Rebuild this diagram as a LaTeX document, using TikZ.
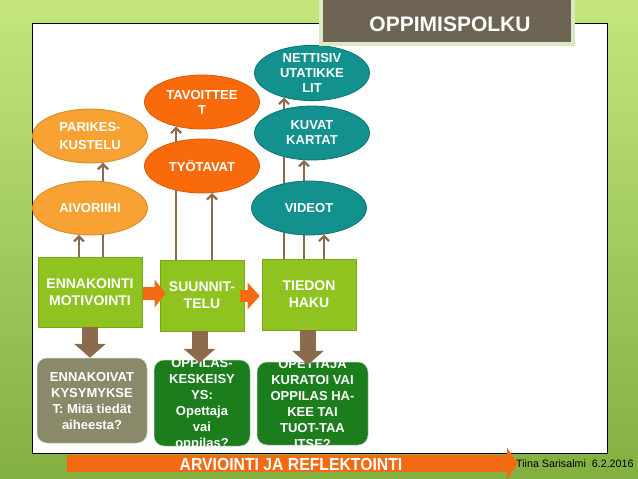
\documentclass[tikz,border=0pt]{standalone}
\usepackage{fontspec}
\setmainfont{Liberation Sans}
\newfontfamily\narrowfont{Liberation Sans}[FakeStretch=0.9]
\usetikzlibrary{shapes.geometric,arrows.meta,calc}
\definecolor{bgtop}{HTML}{C4E67A}
\definecolor{bgbot}{HTML}{82B040}
\definecolor{lorange}{HTML}{F7A232}
\definecolor{dorange}{HTML}{F96A0A}
\definecolor{tealc}{HTML}{12918F}
\definecolor{boxgreen}{HTML}{8EC320}
\definecolor{dgreen}{HTML}{1B7D1B}
\definecolor{olivegray}{HTML}{8A8A6A}
\definecolor{brownarr}{HTML}{8B6B4B}
\definecolor{arrorange}{HTML}{F46A12}
\definecolor{titlebg}{HTML}{6E6453}
\definecolor{titleborder}{HTML}{DCEAC2}
\pgfdeclarelayer{bg}
\pgfdeclarelayer{back}
\pgfsetlayers{bg,back,main}
\tikzset{
  ell/.style={ellipse, minimum width=115pt, minimum height=54pt, inner sep=0pt,
    line width=0.8pt, text=white, align=center,
    font=\bfseries\fontsize{13}{15}\selectfont},
  lor/.style={ell, fill=lorange, draw=lorange!85!black},
  dor/.style={ell, fill=dorange, draw=dorange!85!black},
  tl/.style={ell, fill=tealc, draw=tealc!80!black},
  sqbox/.style={rectangle, fill=boxgreen, draw=boxgreen!85!black, line width=0.6pt,
    text=white, align=center, inner sep=0pt,
    font=\bfseries\fontsize{14}{17}\selectfont},
  rbox/.style={rectangle, rounded corners=10pt, inner sep=0pt, draw=white!60!gray, line width=0.5pt},
  rtext/.style={text=white, align=center, inner sep=0pt,
    font=\bfseries\fontsize{13}{16}\selectfont},
  thinarr/.style={draw=brownarr, line width=2.2pt, -{Straight Barb[length=5pt,width=10pt]}},
  blockdown/.style={draw=brownarr, line width=16pt, -{Triangle[length=14pt,width=31pt]}},
}
\begin{document}
\begin{tikzpicture}[x=1pt,y=-1pt]
\useasboundingbox (0,0) rectangle (638,479);
\begin{pgfonlayer}{bg}
\shade[top color=bgtop, bottom color=bgbot] (0,0) rectangle (638,479);
\draw[fill=white, draw=black, line width=0.8pt] (32,23) rectangle (607,453);
\end{pgfonlayer}

% ellipses
\node[lor] (parik) at (90,136) {PARIKES-\\[3pt]KUSTELU};
\node[lor] (aivo) at (90,208) {AIVORIIHI};
\node[dor] (tavo) at (202,102) {TAVOITTEE\\T};
\node[dor] (tyo) at (202,166) {TYÖTAVAT};
\node[tl] (nett) at (312,73) {NETTISIV\\UTATIKKE\\LIT};
\node[tl] (kuva) at (312,133) {KUVAT\\KARTAT};
\node[tl] (vide) at (309,208) {VIDEOT};

% green boxes
\node[sqbox, minimum width=104pt, minimum height=70pt] (ennak) at (90,292) {ENNAKOINTI\\MOTIVOINTI};
\node[sqbox, minimum width=84pt, minimum height=71pt] (suun) at (202,295.5) {SUUNNIT-\\TELU};
\node[sqbox, minimum width=94pt, minimum height=71pt] (tied) at (309,294.5) {TIEDON\\HAKU};

% thin arrows behind ellipses
\coordinate (e1) at ($(ennak.north)+(-11,0)$);
\coordinate (e2) at ($(ennak.north)+(13,0)$);
\coordinate (s1) at ($(suun.north)+(-26,0)$);
\coordinate (s2) at ($(suun.north)+(10,0)$);
\coordinate (t1) at ($(tied.north)+(-25,0)$);
\coordinate (t2) at ($(tied.north)+(-5,0)$);
\coordinate (t3) at ($(tied.north)+(15,0)$);
\begin{pgfonlayer}{back}
\draw[thinarr] (e1) -- ($(e1 |- aivo.south)+(0,-0.5)$);
\draw[thinarr] (e2) -- ($(e2 |- parik.south)+(0,-0.7)$);
\draw[thinarr] (s1) -- ($(s1 |- tavo.south)+(0,-2.9)$);
\draw[thinarr] (s2) -- ($(s2 |- tyo.south)+(0,-0.4)$);
\draw[thinarr] (t1) -- ($(t1 |- nett.south)+(0,-3.4)$);
\draw[thinarr] (t2) -- ($(t2 |- kuva.south)+(0,-0.5)$);
\draw[thinarr] (t3) -- ($(t3 |- vide.south)+(0,-0.9)$);
\end{pgfonlayer}

% orange block arrows between boxes
\coordinate (o1s) at ($(ennak.east)+(1,1.5)$);
\draw[arrorange, line width=13pt, -{Triangle[length=11pt,width=27pt]}] (o1s) -- ($(o1s -| suun.west)+(6,0)$);
\coordinate (o2s) at ($(suun.east)+(-4,0.5)$);
\draw[arrorange, line width=12pt, -{Triangle[length=12pt,width=26pt]}] (o2s) -- ($(o2s -| tied.west)+(-2,0)$);

% rounded boxes
\node[rbox, fill=olivegray, minimum width=110pt, minimum height=85pt] (enk2) at (92,400.5) {};
\node[rtext] (enk2t) at (92,401) {ENNAKOIVAT\\KYSYMYKSE\\T: Mitä tiedät\\aiheesta?};
\node[rbox, fill=dgreen, minimum width=96pt, minimum height=86pt] (opp) at (202,403) {};
\begin{scope}
\clip[rounded corners=10pt] (opp.south west) rectangle (opp.north east);
\node[rtext] (oppt) at (202,404) {OPPILAS-\\KESKEISY\\YS:\\Opettaja\\vai\\oppilas?};
\end{scope}
\node[rbox, fill=dgreen, minimum width=111pt, minimum height=83pt] (opt) at (312.5,403.5) {};
\begin{scope}
\clip[rounded corners=10pt] (opt.south west) rectangle (opt.north east);
\node[rtext] (optt) at (312.5,404) {OPETTAJA\\KURATOI VAI\\OPPILAS HA-\\KEE TAI\\TUOT-TAA\\ITSE?};
\end{scope}

% brown block arrows down
\draw[blockdown] (ennak.south) -- (ennak.south |- enk2.north);
\coordinate (sd) at ($(suun.south)+(-2.5,0)$);
\draw[blockdown] (sd) -- ($(sd |- opp.north)+(0,3)$);
\coordinate (td) at ($(tied.south)+(-1,0)$);
\draw[blockdown] (td) -- ($(td |- opt.north)+(0,3)$);

% bottom arrow
\node[anchor=west, inner sep=0pt, font=\fontsize{10.7}{13}\selectfont] (sign) at (516,464) {Tiina Sarisalmi\ \ 6.2.2016};
\coordinate (bs) at (67,463.5);
\coordinate (be) at (518,463.5);
\draw[arrorange, line width=17pt, -{Triangle[length=11pt,width=31pt]}] (bs) -- (be);
\node[text=white, inner sep=0pt, font=\narrowfont\bfseries\fontsize{17.5}{20}\selectfont] (arv) at (291,464) {ARVIOINTI JA REFLEKTOINTI};

% title
\node[draw=titleborder, line width=4pt, fill=titlebg, minimum width=252pt, minimum height=54pt, inner sep=0pt] (titlebox) at (447,17) {};
\node[text=white, inner sep=0pt, font=\bfseries\fontsize{21}{24}\selectfont] (title) at (450,24) {OPPIMISPOLKU};
\end{tikzpicture}
\end{document}
